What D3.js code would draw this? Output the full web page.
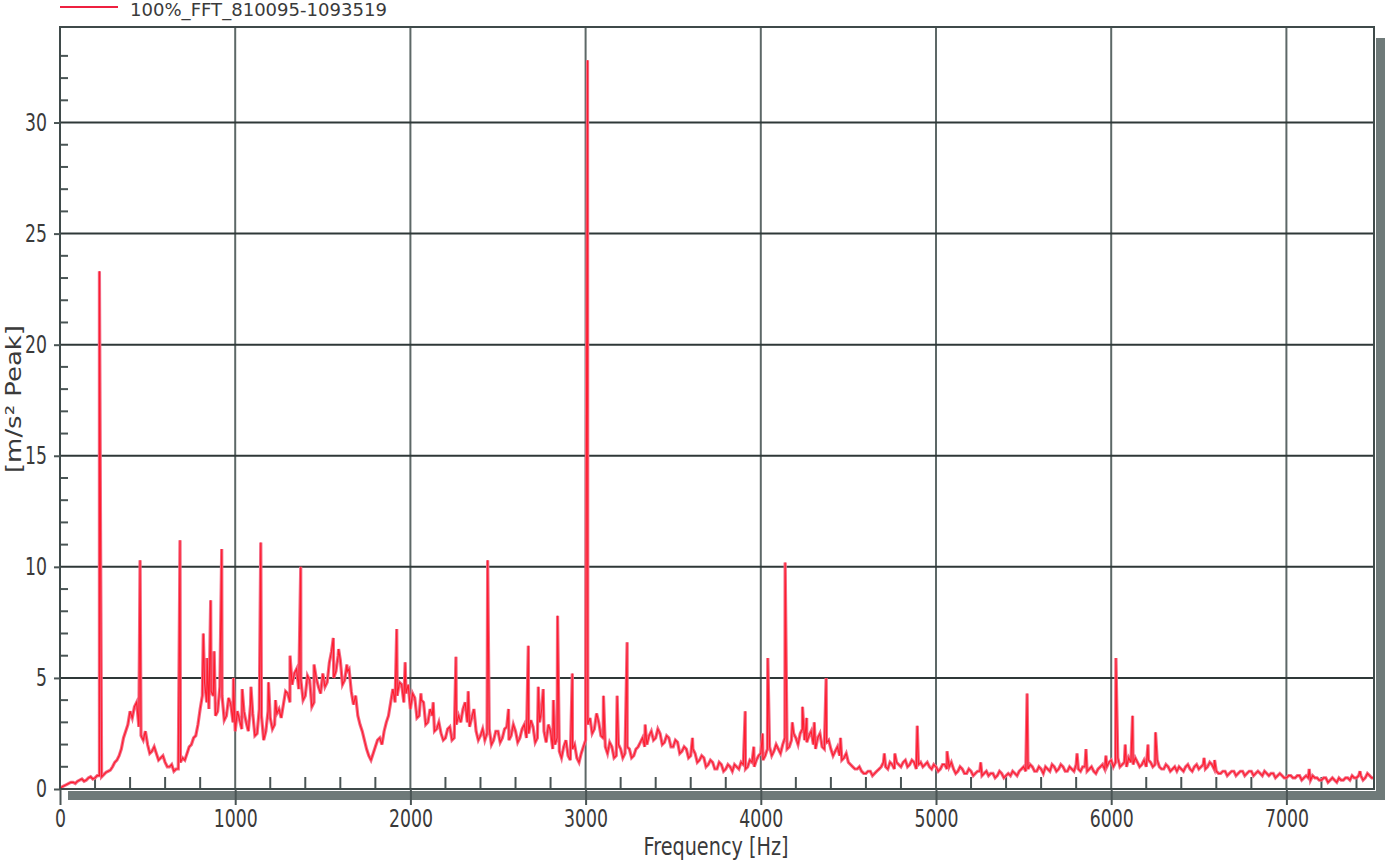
<!DOCTYPE html>
<html>
<head>
<meta charset="utf-8">
<script src="https://cdn.jsdelivr.net/npm/d3@7"></script>
<style>
  html, body { margin: 0; padding: 0; background: #fff; }
  svg { display: block; }
  text { font-family: "DejaVu Sans", Verdana, sans-serif; fill: #3a3a3a; }
</style>
</head>
<body>
<div id="chart"></div>
<script>
// Series name and axis texts
const seriesName = "100%_FFT_810095-1093519";
const xTitle = "Frequency [Hz]";
const yTitle = "[m/s² Peak]";

// Tick values
const xMajor = [0, 1000, 2000, 3000, 4000, 5000, 6000, 7000];
const yMajor = [0, 5, 10, 15, 20, 25, 30];

// Broadband floor of the spectrum, one value every 25 Hz from 0 to 7500 Hz
const floorStep = 25;
const floorAmp = [
  0.0,0.15,0.25,0.3,0.35,0.45,0.4,0.55,0.5,0.6, 0.65,0.8,1.0,1.3,1.8,2.6,3.5,3.7,2.8,2.2,
  2.0,1.7,1.6,1.4,1.2,1.0,0.8,0.9,1.4,1.6, 2.0,2.4,3.6,4.8,3.6,4.2,3.5,4.2,3.3,3.8,
  2.6,3.1,3.5,2.6,3.4,2.5,3.3,2.6,3.2,2.9, 3.6,3.8,4.3,4.7,5.4,4.9,4.2,4.9,3.9,4.6,
  5.2,4.8,6.2,5.3,5.8,4.9,5.4,3.8,3.3,2.6, 1.8,1.3,1.9,2.3,2.6,3.3,4.5,4.2,4.7,4.3,
  3.6,4.1,3.3,3.9,3.0,3.3,2.7,2.5,2.3,2.8, 2.3,3.3,3.6,3.0,3.2,2.6,2.4,2.2,2.7,2.2,
  2.6,2.3,2.8,2.4,2.6,2.3,2.9,2.5,2.8,2.3, 3.6,2.1,2.6,2.0,1.7,1.9,1.5,1.8,1.4,1.6,
  2.2,3.2,2.7,3.0,2.3,1.6,1.9,1.5,1.8,1.6, 1.8,1.5,1.9,2.3,2.0,2.6,2.3,2.5,2.1,2.3,
  1.9,2.1,1.7,1.8,1.5,1.6,1.3,1.4,1.1,1.2, 0.9,1.1,0.9,1.0,1.1,0.9,1.1,1.0,1.2,1.3,
  1.6,1.5,1.9,1.7,1.8,2.0,1.8,2.2,2.3,2.5, 2.2,2.4,2.0,2.3,1.9,2.1,1.8,1.7,1.5,1.4,
  1.2,1.0,0.9,0.8,0.7,0.8,0.7,0.9,1.2,0.9, 1.1,1.2,1.0,1.3,1.1,1.2,1.1,1.0,1.2,0.9,
  1.0,0.9,1.1,1.0,0.9,0.8,0.9,0.7,0.8,0.7, 0.8,0.7,0.6,0.7,0.6,0.7,0.6,0.6,0.7,0.8,
  1.0,0.9,1.0,0.8,0.9,1.0,0.8,1.0,0.9,1.0, 0.8,0.9,1.1,0.8,1.0,0.9,0.8,0.9,1.1,1.0,
  1.3,1.2,1.0,1.2,1.4,1.1,1.2,1.1,1.0,1.2, 1.1,1.0,0.9,1.0,0.9,0.8,0.9,1.0,0.9,1.0,
  0.9,1.1,1.0,1.1,0.8,0.7,0.8,0.7,0.8,0.7, 0.8,0.7,0.8,0.7,0.7,0.8,0.6,0.7,0.6,0.6,
  0.5,0.6,0.5,0.6,0.5,0.5,0.6,0.5,0.4,0.5, 0.4,0.4,0.5,0.4,0.5,0.6,0.5,0.6,0.5,0.6,
  0.5
];

// Ripple of the floor halfway between those samples (12.5 Hz, 37.5 Hz, ... 7487.5 Hz)
const floorMidAmp = [
  0.1,0.2,0.3,0.25,0.4,0.35,0.5,0.45,0.6,0.55, 0.75,0.85,1.2,1.5,2.3,2.9,3.2,3.9,2.4,2.6,
  1.6,1.9,1.3,1.5,1.0,1.1,0.9,1.2,1.3,1.9, 2.3,2.9,4.2,3.9,4.4,3.3,4.6,3.1,4.1,3.0,
  3.5,2.7,3.0,3.8,2.4,3.6,2.2,3.5,2.7,3.4, 3.2,4.4,3.9,5.2,4.5,4.0,5.1,3.7,5.0,4.3,
  4.6,5.7,5.0,6.0,4.7,5.6,4.4,4.2,2.9,2.2, 1.5,1.6,2.2,2.0,3.0,3.9,3.9,4.8,3.9,4.7,
  4.3,3.2,4.0,2.9,3.6,2.6,3.0,2.2,2.7,2.2, 2.9,3.0,3.9,2.8,3.6,2.2,2.7,2.5,2.0,2.6,
  2.1,2.7,2.2,2.9,2.1,2.7,2.3,3.1,2.1,3.0, 2.6,2.9,1.8,2.3,1.4,2.2,1.3,2.0,1.2,1.9,
  2.9,2.5,3.4,2.4,1.9,2.1,1.4,2.0,1.4,1.9, 1.4,1.8,2.1,1.9,2.4,2.2,2.7,2.0,2.4,1.9,
  2.2,1.6,1.9,1.4,1.8,1.2,1.5,1.0,1.3,0.9, 1.2,0.8,1.1,0.8,1.0,1.2,0.9,1.3,1.0,1.5,
  1.3,1.8,1.5,2.0,1.6,2.3,1.9,2.5,2.0,2.7, 2.1,2.6,1.8,2.5,1.8,2.2,1.5,1.9,1.3,1.6,
  1.1,0.9,1.0,0.7,0.8,0.6,0.8,1.0,1.0,1.2, 0.9,1.1,1.2,1.0,1.3,0.9,1.2,1.1,1.0,1.1,
  0.8,1.1,0.9,1.2,0.7,1.0,0.7,0.9,0.6,0.8, 0.6,0.8,0.7,0.5,0.8,0.5,0.7,0.8,0.6,0.9,
  0.8,1.1,0.8,1.0,0.7,0.9,1.1,0.8,1.1,0.8, 1.0,0.8,0.9,1.0,0.8,1.0,0.7,1.0,0.9,1.2,
  1.0,1.4,1.1,1.0,1.2,1.4,1.0,1.3,1.3,1.0, 1.3,0.9,1.1,0.8,1.0,1.0,0.8,1.1,0.8,1.1,
  1.0,0.9,1.2,0.9,0.7,0.8,0.6,0.8,0.6,0.8, 0.6,0.8,0.6,0.8,0.6,0.7,0.7,0.5,0.7,0.5,
  0.6,0.5,0.6,0.4,0.6,0.4,0.5,0.4,0.5,0.3, 0.5,0.3,0.4,0.5,0.4,0.5,0.6,0.4,0.7,0.5
];

// Discrete spectral lines [frequency Hz, amplitude]
const peakFreq = [
  225, 457, 685, 818, 840, 860, 880, 923, 990, 1040, 1090, 1146, 1190, 1230, 1313, 1374,
  1450, 1560, 1590, 1640, 1922, 1970, 2060, 2130, 2260, 2330, 2441, 2560, 2673, 2730,
  2758, 2816, 2840, 2924, 3011, 3102, 3180, 3237, 3340, 3610, 3911, 3960, 4010, 4040,
  4139, 4180, 4238, 4262, 4305, 4373, 4455, 4705, 4765, 4893, 5063, 5255, 5520, 5805,
  5856, 5970, 6027, 6080, 6122, 6210, 6253, 6530, 6590, 7130, 7420
];
const peakAmp = [
  23.3, 10.3, 11.2, 7.0, 5.9, 8.5, 6.2, 10.8, 5.0, 4.5, 4.6, 11.1, 4.8, 4.0, 6.0, 10.0,
  5.6, 6.8, 6.3, 5.3, 7.2, 5.7, 4.3, 3.9, 5.95, 4.4, 10.3, 3.6, 6.45, 4.6,
  4.5, 4.0, 7.8, 5.2, 32.8, 4.2, 4.2, 6.6, 2.9, 2.3, 3.5, 1.9, 2.5, 5.9,
  10.2, 3.0, 3.7, 3.2, 3.0, 5.0, 2.3, 1.6, 1.6, 2.85, 1.7, 1.2, 4.3, 1.6,
  1.8, 1.5, 5.9, 2.0, 3.3, 2.0, 2.55, 1.4, 1.3, 0.9, 0.8
];

const width = 1385, height = 863;
const plot = { left: 60, right: 1374, top: 27, bottom: 789 };

const svg = d3.select("#chart").append("svg")
    .attr("width", width)
    .attr("height", height);

const x = d3.scaleLinear().domain([0, 7500]).range([plot.left, plot.right]);
const y = d3.scaleLinear().domain([0, 34.3]).range([plot.bottom, plot.top]);

// Build the spectrum: floor samples, their midpoints and the spectral lines
const points = floorAmp.map((v, i) => [i * floorStep, v])
  .concat(floorMidAmp.map((v, i) => [i * floorStep + floorStep / 2, v]))
  .concat(peakFreq.map((f, i) => [f, peakAmp[i]]))
  .sort((a, b) => a[0] - b[0]);

// Shadow bands (bottom and right)
svg.append("rect")
    .attr("x", 68).attr("y", plot.bottom + 2)
    .attr("width", width - 68).attr("height", 9)
    .attr("fill", "#6f7a79");
svg.append("rect")
    .attr("x", plot.right + 2).attr("y", 38)
    .attr("width", 9).attr("height", plot.bottom + 11 - 38)
    .attr("fill", "#6f7a79");

// Plot background
svg.append("rect")
    .attr("x", plot.left).attr("y", plot.top)
    .attr("width", plot.right - plot.left).attr("height", plot.bottom - plot.top)
    .attr("fill", "#fff");

// Grid lines
svg.append("g")
  .selectAll("line")
  .data(xMajor.filter(d => d > 0))
  .join("line")
    .attr("x1", d => x(d)).attr("x2", d => x(d))
    .attr("y1", plot.top).attr("y2", plot.bottom)
    .attr("stroke", "#5d6867")
    .attr("stroke-width", 2);

svg.append("g")
  .selectAll("line")
  .data(yMajor.filter(d => d > 0))
  .join("line")
    .attr("x1", plot.left).attr("x2", plot.right)
    .attr("y1", d => y(d)).attr("y2", d => y(d))
    .attr("stroke", "#2f3838")
    .attr("stroke-width", 2);

// Minor ticks, pointing inside the plot
svg.append("g")
  .selectAll("line")
  .data(d3.range(1, 34).filter(d => d % 5 !== 0))
  .join("line")
    .attr("x1", plot.left).attr("x2", plot.left + 8)
    .attr("y1", d => y(d)).attr("y2", d => y(d))
    .attr("stroke", "#4a5555")
    .attr("stroke-width", 2);

svg.append("g")
  .selectAll("line")
  .data(d3.range(200, 7500, 200).filter(d => d % 1000 !== 0))
  .join("line")
    .attr("x1", d => x(d)).attr("x2", d => x(d))
    .attr("y1", plot.bottom).attr("y2", plot.bottom - 12)
    .attr("stroke", "#4a5555")
    .attr("stroke-width", 2);

// Spectrum line: a soft pink band with a red core
const line = d3.line().x(d => x(d[0])).y(d => y(d[1]));

svg.append("path")
    .datum(points)
    .attr("fill", "none")
    .attr("stroke", "#f26a85")
    .attr("stroke-width", 3.2)
    .attr("d", line);

svg.append("path")
    .datum(points)
    .attr("fill", "none")
    .attr("stroke", "#ff1c2c")
    .attr("stroke-width", 1.1)
    .attr("d", line);

// Frame
svg.append("rect")
    .attr("x", plot.left).attr("y", plot.top)
    .attr("width", plot.right - plot.left).attr("height", plot.bottom - plot.top)
    .attr("fill", "none")
    .attr("stroke", "#3f4a4a")
    .attr("stroke-width", 2);

// Axes
const xAxis = svg.append("g")
    .attr("transform", `translate(0,${plot.bottom})`)
    .call(d3.axisBottom(x).tickValues(xMajor).tickFormat(d3.format("d"))
      .tickSize(16).tickSizeOuter(0).tickPadding(5));

const yAxis = svg.append("g")
    .attr("transform", `translate(${plot.left},0)`)
    .call(d3.axisLeft(y).tickValues(yMajor).tickFormat(d3.format("d"))
      .tickSize(6).tickSizeOuter(0).tickPadding(7));

for (const g of [xAxis, yAxis]) {
  g.select(".domain").remove();
  g.selectAll(".tick line").attr("stroke", "#4a5555").attr("stroke-width", 2);
  g.selectAll(".tick text")
      .style("font-family", "'DejaVu Sans', Verdana, sans-serif")
      .style("font-size", "24px")
      .attr("fill", "#3a3a3a")
      .attr("textLength", function() { return this.textContent.length * 11; })
      .attr("lengthAdjust", "spacingAndGlyphs");
}

// Axis titles
svg.append("text")
    .attr("x", 716).attr("y", 855)
    .attr("text-anchor", "middle")
    .attr("font-size", 24)
    .attr("textLength", 145)
    .attr("lengthAdjust", "spacingAndGlyphs")
    .text(xTitle);

svg.append("text")
    .attr("transform", "translate(21,399) rotate(-90)")
    .attr("text-anchor", "middle")
    .attr("font-size", 22)
    .attr("textLength", 148)
    .attr("lengthAdjust", "spacingAndGlyphs")
    .text(yTitle);

// Legend
svg.append("line")
    .attr("x1", 60).attr("x2", 118)
    .attr("y1", 7).attr("y2", 7)
    .attr("stroke", "#ee2040")
    .attr("stroke-width", 2);

svg.append("text")
    .attr("x", 130).attr("y", 16)
    .attr("font-size", 18)
    .attr("textLength", 257)
    .attr("lengthAdjust", "spacingAndGlyphs")
    .text(seriesName);
</script>
</body>
</html>
